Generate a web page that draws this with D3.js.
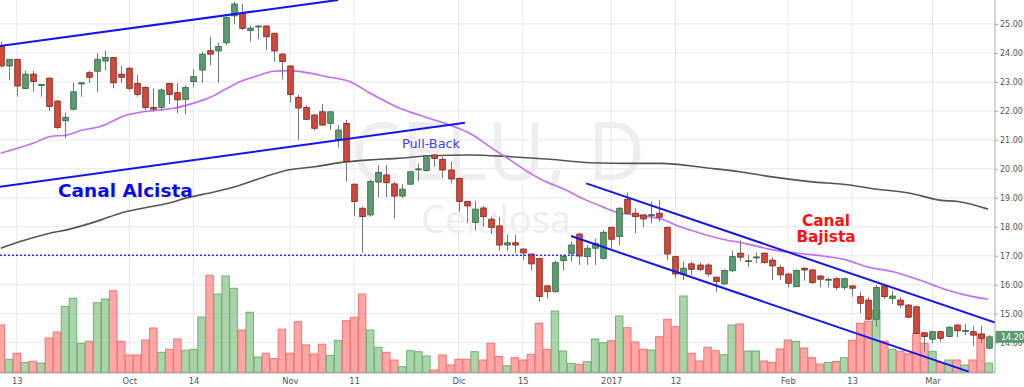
<!DOCTYPE html>
<html>
<head>
<meta charset="utf-8">
<script src="https://cdn.jsdelivr.net/npm/d3@7"></script>
<style>
  body { margin: 0; background: #fff; }
  svg { display: block; }
</style>
</head>
<body>
<svg id="chart" width="1024" height="387"></svg>
<script>
// candle data, one entry per session (index 0..123)
const opens = [24.22,23.55,23.78,22.77,23.27,22.89,23.13,22.34,21.66,22.06,22.93,23.32,23.37,23.72,23.84,23.27,23.47,22.95,22.81,22.12,
  22.12,22.95,22.63,22.40,23.01,23.41,24.08,24.07,24.35,25.28,25.37,24.77,24.92,24.93,24.68,23.96,23.55,22.47,22.12,21.86,
  21.97,21.57,21.00,21.57,19.47,18.64,18.41,19.54,19.79,19.48,19.06,19.47,19.97,19.94,20.48,20.33,19.96,19.67,18.87,18.15,
  18.65,18.26,18.03,17.37,17.45,17.23,17.06,16.91,15.96,15.76,16.83,17.08,17.75,16.97,17.26,16.91,17.98,17.66,18.95,18.47,
  18.41,18.41,18.47,17.98,16.97,16.37,16.72,16.68,16.68,16.26,16.03,16.48,17.09,16.82,16.95,17.09,16.85,16.60,16.37,15.93,
  16.57,16.51,16.30,16.18,16.21,15.91,15.96,15.59,15.47,14.81,15.96,15.53,15.47,15.30,15.24,14.34,14.12,14.38,14.21,14.61,
  14.41,14.38,14.30,13.81];
const highs = [24.39,23.78,23.80,23.39,23.39,22.93,23.15,22.38,21.94,22.97,22.99,23.39,23.99,24.08,23.86,23.55,23.52,23.24,22.85,22.78,
  22.78,22.97,22.95,22.89,23.44,24.04,24.56,24.35,25.25,25.77,25.69,24.93,24.95,24.95,24.70,24.00,23.57,22.55,22.20,21.88,
  22.24,21.97,21.52,21.69,19.49,18.69,19.62,20.13,20.13,19.56,19.48,19.90,20.19,20.48,20.50,20.42,20.25,19.70,18.89,18.90,
  18.72,18.35,18.35,17.72,17.72,17.26,17.08,16.93,15.98,16.83,17.03,17.49,17.78,17.37,17.60,17.89,18.00,18.67,19.18,18.64,
  18.43,18.87,18.92,18.00,17.00,16.80,16.80,16.77,16.74,16.28,16.53,17.17,17.54,17.03,17.11,17.11,16.95,16.68,16.40,16.53,
  16.59,16.53,16.34,16.24,16.26,16.24,15.98,15.76,15.57,15.99,16.03,15.79,15.57,15.32,15.26,14.38,14.41,14.41,14.58,14.64,
  14.64,14.58,14.58,14.26];
const lows = [23.50,23.07,22.49,22.76,22.66,22.49,22.00,21.37,21.05,22.02,22.49,22.97,22.66,23.39,22.78,22.97,22.70,22.49,22.03,21.97,
  22.00,22.24,21.92,21.89,22.81,22.97,23.58,22.97,24.27,25.00,24.79,24.39,24.47,24.10,23.70,23.09,22.28,21.00,21.70,21.32,
  21.48,21.34,20.74,19.56,18.37,17.11,18.35,19.02,19.02,18.29,19.00,19.44,19.58,19.90,20.07,19.67,19.50,18.52,18.12,17.87,
  18.00,17.75,17.17,17.17,17.08,16.85,16.50,15.41,15.53,15.72,16.50,16.80,16.68,16.68,16.68,16.87,17.26,17.37,18.47,17.78,
  17.98,18.12,18.18,16.85,16.22,16.16,16.34,16.47,16.28,15.76,15.99,16.45,16.80,16.60,16.74,16.74,16.16,16.16,15.91,15.93,
  16.14,16.03,15.91,15.90,15.82,15.82,15.59,15.01,14.78,14.55,15.50,15.33,15.19,14.84,14.30,13.69,13.98,14.03,14.19,14.19,
  14.26,13.89,13.98,13.77];
const closes = [23.55,23.78,22.86,23.27,23.01,22.91,22.15,21.43,21.78,22.66,22.97,23.16,23.78,23.84,22.97,23.16,22.78,22.57,22.12,22.06,
  22.72,22.57,22.38,22.81,23.18,23.96,23.96,24.22,25.23,25.69,24.85,24.86,24.93,24.56,24.07,23.70,22.56,22.10,21.71,21.40,
  21.51,21.97,21.34,20.25,18.87,18.35,19.56,19.88,19.52,19.06,19.30,19.90,20.00,20.45,20.36,19.96,19.65,18.87,18.72,18.61,
  18.35,17.98,17.37,17.45,17.37,17.10,16.72,15.59,15.76,16.76,16.97,17.37,16.99,17.26,17.43,17.81,17.57,18.64,18.47,18.35,
  18.27,18.42,18.33,17.06,16.37,16.57,16.53,16.53,16.37,16.11,16.49,16.97,16.95,16.83,16.96,16.76,16.65,16.34,16.05,16.49,
  16.51,16.07,16.19,16.19,15.91,16.21,15.88,15.36,14.81,15.91,15.59,15.61,15.30,14.88,14.32,14.21,14.38,14.15,14.53,14.41,
  14.42,14.26,14.15,14.20];
const volumes = [480,137,197,107,117,100,350,410,667,747,297,317,703,740,823,317,180,180,330,450,
  207,237,340,227,237,560,977,790,970,847,430,607,160,197,143,437,197,513,280,190,
  287,177,327,523,557,790,430,257,207,130,63,223,213,170,30,180,80,137,137,213,
  130,297,165,73,153,130,187,497,237,620,220,97,87,113,340,303,323,570,453,310,
  237,230,363,537,463,770,197,120,257,223,183,480,490,220,220,120,107,240,330,317,
  250,153,90,105,115,153,327,497,518,630,320,237,218,193,397,297,217,105,130,130,
  80,130,388,100];

// moving averages, [session index, price]
const maFast = [[0,20.54],[4,20.88],[6.1,21.11],[8.3,21.17],[10.2,21.34],[12.4,21.46],[15.7,21.86],[17.3,21.95],[19.8,22.03],
  [21.5,22.09],[23.9,22.26],[26.1,22.47],[28.2,22.78],[29.8,23.01],[32.3,23.24],[33.9,23.37],[36,23.39],[38.1,23.32],
  [40.6,23.18],[43.5,23.01],[46,22.61],[49.7,22.09],[53.4,21.74],[55.9,21.51],[58.4,21.23],[60.9,20.76],[63.4,20.31],
  [65.9,19.85],[67.8,19.56],[69.9,19.33],[72.4,18.98],[74.9,18.69],[76.8,18.49],[79,18.41],[82.3,18.26],[84.6,18.0],
  [87.1,17.78],[89.9,17.57],[92.9,17.41],[95.8,17.22],[99.5,17.08],[102.9,16.97],[105.3,16.85],[107.8,16.62],
  [111.1,16.45],[114.4,16.16],[117.8,15.82],[121,15.59],[122.9,15.5]];
const maSlow = [[0,17.26],[2.4,17.49],[6.1,17.78],[8.6,17.92],[12.4,18.23],[14.9,18.47],[18.6,18.69],[21.1,18.83],[22.9,18.98],
  [26.7,19.21],[29.2,19.38],[32.9,19.73],[35.8,19.96],[39.1,20.07],[41.6,20.19],[46,20.31],[49.3,20.36],[53.4,20.45],
  [58.4,20.48],[63.4,20.42],[68.4,20.33],[73.4,20.21],[78.3,20.19],[82.1,20.19],[88.3,20.02],[92,19.9],[95.8,19.73],
  [100.7,19.56],[105.7,19.44],[108.2,19.33],[113.2,19.16],[116.9,18.92],[119.2,18.87],[122.9,18.61]];

// drawn channels
const upperUp = [[-0.1,24.24],[42,25.83]];
const lowerUp = [[-0.1,19.38],[57.8,21.59]];
const upperDown = [[72.9,19.5],[123.8,14.69]];
const lowerDown = [[71,17.68],[120.5,13.0]];
const support = [[-0.1,17.02],[71.9,17.02]];

const priceTicks = [14,15,16,17,18,19,20,21,22,23,24,25];
const dateTickIdx = [2,16,24,36,44,57,65,76,84,98,106,116];
const dateTickLabels = ["13","Oct","14","Nov","11","Dic","15","2017","12","Feb","13","Mar"];
const lastPrice = 14.20;

const svg = d3.select("#chart");
const W = 995, H = 373;

const xi = d3.scaleLinear().domain([-0.5, 123.5]).range([-3.3, 992.7]);
const step = xi(1) - xi(0);
const y = d3.scaleLinear().domain([12.953, 25.828]).range([H, 0]);
const yVol = d3.scaleLinear().domain([0, 1000]).range([H, H - 100]);

svg.append("defs").append("clipPath").attr("id", "plotClip")
  .append("rect").attr("x", 0).attr("y", 0).attr("width", W).attr("height", H);

// grid
const grid = svg.append("g");
grid.selectAll(".hg").data(priceTicks.concat([13])).join("line")
  .attr("x1", 0).attr("x2", W)
  .attr("y1", d => y(d)).attr("y2", d => y(d))
  .attr("stroke", "#e8e8e8").attr("stroke-width", 1);
grid.selectAll(".vg").data(dateTickIdx).join("line")
  .attr("x1", d => xi(d)).attr("x2", d => xi(d))
  .attr("y1", 0).attr("y2", H)
  .attr("stroke", "#e8e8e8").attr("stroke-width", 1);

// watermark
svg.append("text").attr("x", 498).attr("y", 180).attr("text-anchor", "middle")
  .style("font-family", "'Open Sans'").style("font-size", "80px").attr("fill", "#eeeeee")
  .text("CELU, D");
svg.append("text").attr("x", 496).attr("y", 233).attr("text-anchor", "middle")
  .style("font-family", "'Open Sans'").style("font-size", "38px").attr("fill", "#eeeeee")
  .text("Celulosa");

const plot = svg.append("g").attr("clip-path", "url(#plotClip)");
const idx = d3.range(opens.length);
const up = i => closes[i] >= opens[i];

// volume
plot.append("g").selectAll("rect").data(idx).join("rect")
  .attr("x", i => xi(i) - step / 2 + 0.3)
  .attr("width", step - 0.6)
  .attr("y", i => yVol(volumes[i]))
  .attr("height", i => H - yVol(volumes[i]))
  .attr("fill", i => up(i) ? "rgba(90,170,90,0.5)" : "rgba(255,80,80,0.5)")
  .attr("stroke", i => up(i) ? "#6cb56c" : "#f57373")
  .attr("stroke-width", 1);

// moving averages
const line = d3.line().x(d => xi(d[0])).y(d => y(d[1])).curve(d3.curveMonotoneX);
plot.append("path").datum(maSlow).attr("d", line)
  .attr("fill", "none").attr("stroke", "#555").attr("stroke-width", 1.6);
plot.append("path").datum(maFast).attr("d", line)
  .attr("fill", "none").attr("stroke", "#c46cf4").attr("stroke-width", 1.6);

// candles
const cw = 5.6;
const candles = plot.append("g").selectAll("g").data(idx).join("g");
candles.append("line")
  .attr("x1", i => Math.round(xi(i)) + 0.5).attr("x2", i => Math.round(xi(i)) + 0.5)
  .attr("y1", i => y(highs[i])).attr("y2", i => y(lows[i]))
  .attr("stroke", "#777").attr("stroke-width", 1);
candles.append("rect")
  .attr("x", i => Math.round(xi(i)) + 0.5 - cw / 2)
  .attr("width", cw)
  .attr("y", i => y(Math.max(opens[i], closes[i])))
  .attr("height", i => Math.max(1, Math.abs(y(opens[i]) - y(closes[i]))))
  .attr("fill", i => up(i) ? "#5b9b6f" : "#d2493a")
  .attr("stroke", i => up(i) ? "#2e6540" : "#7a261c")
  .attr("stroke-width", 0.8);

// trend lines
const straight = d3.line().x(d => xi(d[0])).y(d => y(d[1]));
[upperUp, lowerUp, upperDown, lowerDown].forEach(seg => {
  plot.append("path").datum(seg).attr("d", straight)
    .attr("fill", "none").attr("stroke", "#1414f0").attr("stroke-width", 2);
});
plot.append("path").datum(support).attr("d", straight)
  .attr("fill", "none").attr("stroke", "#2828ee").attr("stroke-width", 1.6)
  .attr("stroke-dasharray", "2,2");

// annotations
svg.append("text").attr("x", 58).attr("y", 197)
  .style("font-family", "'DejaVu Sans'").style("font-weight", "bold").style("font-size", "18.5px")
  .attr("fill", "#0a0aee").text("Canal Alcista");
svg.append("text").attr("x", 402).attr("y", 148)
  .style("font-family", "'DejaVu Sans'").style("font-size", "12.8px")
  .attr("fill", "#3d3df2").text("Pull-Back");
const bj = svg.append("text").attr("text-anchor", "middle")
  .style("font-family", "'DejaVu Sans'").style("font-weight", "bold").style("font-size", "15.3px")
  .attr("fill", "#ff1010");
bj.append("tspan").attr("x", 826).attr("y", 226).text("Canal");
bj.append("tspan").attr("x", 826).attr("y", 242).text("Bajista");

// axes
const yAxis = d3.axisRight(y).tickValues(priceTicks).tickSize(3).tickFormat(d3.format(".2f"));
const gy = svg.append("g").attr("transform", `translate(${W},0)`).call(yAxis);
gy.select(".domain").attr("stroke", "#aaa").attr("d", `M0,0V${H}`);
gy.selectAll(".tick line").attr("stroke", "#aaa");
gy.selectAll(".tick text").attr("x", 5).attr("fill", "#555")
  .style("font-family", "'DejaVu Sans'").style("font-size", "8px");

const xAxis = d3.axisBottom(xi).tickValues(dateTickIdx).tickSize(0)
  .tickFormat((d, k) => dateTickLabels[k]);
const gx = svg.append("g").attr("transform", `translate(0,${H})`).call(xAxis);
gx.select(".domain").attr("stroke", "#aaa").attr("stroke-width", 1.2).attr("d", `M0,0H${W}`);
gx.selectAll(".tick text").attr("y", 8).attr("dy", "0.32em").attr("fill", "#555")
  .style("font-family", "'DejaVu Sans'").style("font-size", "8.3px");

// last price label
const lp = svg.append("g").attr("transform", `translate(${W},${y(lastPrice)})`);
lp.append("rect").attr("x", 0.5).attr("y", -6).attr("width", 30).attr("height", 12).attr("fill", "#5b9b6f");
lp.append("text").attr("x", 6).attr("dy", "0.35em").attr("fill", "#fff")
  .style("font-family", "'DejaVu Sans'").style("font-size", "8px").text(d3.format(".2f")(lastPrice));
</script>
</body>
</html>
